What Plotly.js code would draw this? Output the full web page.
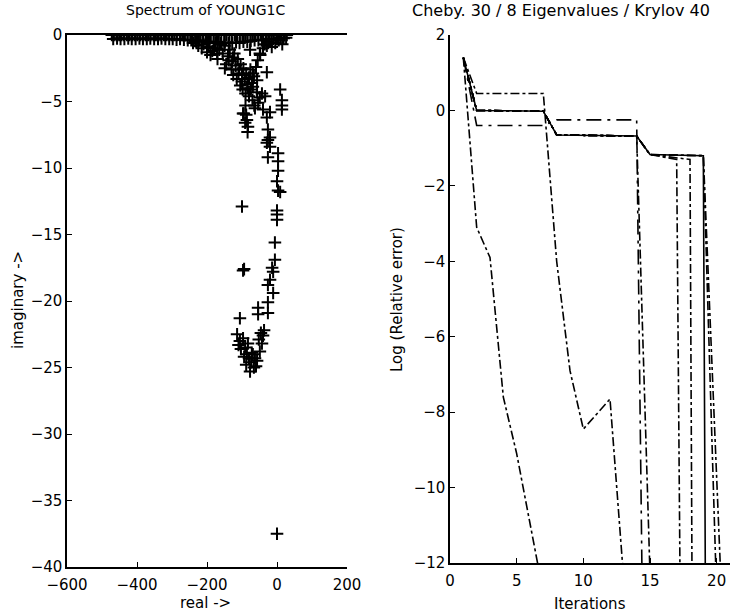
<!DOCTYPE html>
<html>
<head>
<meta charset="utf-8">
<script src="https://cdn.plot.ly/plotly-3.0.1.min.js"></script>
<style>
html,body{margin:0;padding:0;background:#fff;}
#chart{width:737px;height:614px;}
</style>
</head>
<body>
<div id="chart"></div>
<script>
// ---------- Left panel: spectrum of YOUNG1C (real, imaginary) ----------
const bandReal = [-472,-466,-459,-451,-444,-437,-429,-421,-413,-406,-399,-391,-384,-376,-368,-361,-353,-346,-338,-331,-323,-315,-308,-301,-293,-286,-278,-271,-263,-256,-248,-241,-233,-226,-219,-211,-204,-197,-189,-181,-174,-166,-159,-151,-144,-136,-129,-121,-114,-106,-99,-91,-84,-76,-69,-61,-54,-46,-39,-31,-24,-16,-9,-2,6,13,21,28];
const bandImag = [0,0,0,0,0,0,0,0,0,0,0,0,0,0,0,0,0,0,0,0,0,0,0,0,0,0,0,0,0,0,0,0,0,0,0,0,0,0,0,0,0,0,0,0,0,0,0,0,0,0,0,0,0,0,0,0,0,0,0,0,0,0,0,0,0,0,0,0];
const band2Real = [-468,-457,-447,-436,-425,-415,-404,-393,-383,-372,-362,-351,-340,-330,-319,-308,-298,-287,-277,-266,-255,-245,-234,-223,-213,-202,-192,-181,-170,-160,-149,-138,-128,-117,-107,-96,-85,-75,-64,-53,-43,-32,-21,-11,0,10,19,26];
const band2Imag = [-0.3,-0.25,-0.3,-0.3,-0.25,-0.3,-0.3,-0.25,-0.3,-0.3,-0.25,-0.3,-0.3,-0.25,-0.3,-0.3,-0.3,-0.35,-0.3,-0.35,-0.4,-0.4,-0.45,-0.4,-0.45,-0.5,-0.5,-0.55,-0.5,-0.6,-0.55,-0.6,-0.6,-0.55,-0.6,-0.5,-0.5,-0.45,-0.4,-0.4,-0.35,-0.35,-0.3,-0.3,-0.3,-0.25,-0.25,-0.2];
const clusterReal = [-240,-225,-210,-195,-185,-175,-165,-155,-150,-140,-135,-128,-122,-118,-112,-108,-104,-100,-96,-92,-88,-84,-80,-76,-72,-66,-60,-55,-48,-40,-35,-25,-15,-5,5,15,
  -230,-215,-200,-190,-180,-170,-160,-145,-138,-130,-125,-115,-110,-105,-98,-90,-85,-80,-75,-70,-65,-90,-95,-88,-84,
  -200,-171,-149,-126,-100,-77,-49,-29,-69,-57,-29,9,14,14,14,-97,-91,-86,-83,-69,-57,-49,-54,-63,-40,-29,-20,-43,-34,-26,
  -29,-20,-26,-20,-26,3,3,3,0,3,9,-100,0,0,0,-6,-6,-14,-11,-97,-94,-20,-26,-11,-26,-54,-54,-26,-106,
  -114,-106,-97,-91,-86,-80,-74,-69,-63,-57,-49,-43,-40,-103,-94,-83,-77,-66,-60,-37,-110,-88,-72,-52,-46,0];
const clusterImag = [-0.6,-0.8,-0.7,-0.9,-1.2,-0.6,-1.1,-1.4,-0.8,-1.6,-1.1,-2.0,-1.4,-2.3,-1.8,-2.6,-2.2,-3.0,-2.5,-3.3,-2.9,-3.7,-3.2,-2.6,-3.6,-3.1,-2.4,-1.9,-1.5,-1.0,-0.7,-0.5,-0.9,-0.6,-0.4,-0.7,
  -0.5,-1.0,-0.6,-1.5,-1.0,-1.8,-0.7,-2.2,-1.9,-2.6,-3.0,-3.3,-2.9,-3.8,-4.1,-4.4,-4.0,-4.6,-4.1,-4.9,-5.3,-5.3,-5.9,-6.0,-7.3,
  -1.3,-1.4,-2.5,-1.7,-3.5,-1.1,-1.4,-0.8,-2.9,-3.4,-2.8,-4.1,-4.9,-5.3,-5.6,-5.9,-6.6,-6.4,-6.9,-3.9,-4.3,-4.7,-5.1,-5.5,-5.6,-6.2,-5.8,-4.4,-4.6,-7.1,
  -8.1,-7.7,-7.9,-8.4,-9.2,-8.9,-9.5,-10.2,-11.0,-11.7,-11.8,-12.9,-13.2,-13.5,-13.9,-15.6,-16.9,-17.5,-17.8,-17.7,-17.6,-18.4,-18.8,-19.4,-20.1,-20.5,-21.0,-20.9,-21.3,
  -22.5,-23.0,-22.8,-23.5,-24.0,-24.3,-24.6,-24.0,-24.3,-24.5,-23.8,-23.2,-22.6,-23.6,-24.2,-23.2,-25.3,-25.0,-24.9,-22.2,-23.3,-24.8,-23.9,-22.9,-22.4,-37.5];

// ---------- Right panel: Log(relative error) vs iterations ----------
const iterA = [1,2,7,8,14,15,19,19.15];
const errA  = [1.4,0.0,-0.02,-0.65,-0.68,-1.17,-1.2,-12.3];
const iterB = [1,2,7,8,9,10,12,13];
const errB  = [1.4,0.45,0.45,-4.0,-6.9,-8.45,-7.65,-12.3];
const iterC = [1,2,3,4,5,6,7];
const errC  = [1.4,-3.1,-3.9,-7.6,-9.1,-10.95,-12.8];
const iterD = [1,2,7,8,14,14.4];
const errD  = [1.4,-0.4,-0.4,-0.25,-0.25,-12.3];
const iterE = [1,2,7,8,14,15];
const errE  = [1.4,0.0,-0.02,-0.65,-0.68,-12.3];
const iterF = [1,2,7,8,14,15,17,17.25];
const errF  = [1.4,0.0,-0.02,-0.65,-0.68,-1.17,-1.3,-12.3];
const iterG = [1,2,7,8,14,15,18,18.15];
const errG  = [1.4,0.0,-0.02,-0.65,-0.68,-1.17,-1.3,-12.3];
const iterH = [1,2,7,8,14,15,19,19.95];
const errH  = [1.4,0.0,-0.02,-0.65,-0.68,-1.17,-1.2,-12.3];
const iterI = [1,2,7,8,14,15,19,20.3];
const errI  = [1.4,0.0,-0.02,-0.65,-0.68,-1.17,-1.2,-12.3];

const xTicksL = [-600,-400,-200,0,200];
const yTicksL = [0,-5,-10,-15,-20,-25,-30,-35,-40];
const xTicksR = [0,5,10,15,20];
const yTicksR = [2,0,-2,-4,-6,-8,-10,-12];

const FONT = 'DejaVu Sans, Arial, sans-serif';
const mk = {symbol:'cross-thin-open', size:9, color:'#000', line:{color:'#000', width:2}};
const traces = [
  {x:bandReal, y:bandImag, mode:'markers', marker:mk, xaxis:'x', yaxis:'y'},
  {x:band2Real, y:band2Imag, mode:'markers', marker:mk, xaxis:'x', yaxis:'y'},
  {x:clusterReal, y:clusterImag, mode:'markers', marker:mk, xaxis:'x', yaxis:'y'}
];
const lines = [
  [iterA, errA, 'solid'], [iterB, errB, 'dashdot'], [iterC, errC, 'dashdot'],
  [iterD, errD, 'longdashdot'], [iterE, errE, 'dashdot'], [iterF, errF, 'dashdot'],
  [iterG, errG, 'dashdot'], [iterH, errH, 'dashdot'], [iterI, errI, 'dashdot']
];
lines.forEach(l => traces.push({x:l[0], y:l[1], mode:'lines', line:{color:'#000', width:1.6, dash:l[2]}, xaxis:'x2', yaxis:'y2'}));

const axBase = {showline:true, linecolor:'#000', linewidth:1.6, ticks:'inside', ticklen:5, tickcolor:'#000',
  showgrid:false, zeroline:false, tickfont:{family:FONT, size:15, color:'#000'}, fixedrange:true};
const W = 737, H = 614;
const layout = {
  width:W, height:H, margin:{l:0,r:0,t:0,b:0}, showlegend:false,
  paper_bgcolor:'#fff', plot_bgcolor:'#fff',
  xaxis: Object.assign({}, axBase, {domain:[67/W, 347/W], range:[-600,200], tickvals:xTicksL, mirror:true, anchor:'y', ticklabelstandoff:3}),
  yaxis: Object.assign({}, axBase, {domain:[(H-567)/H, (H-35)/H], range:[-40,0], tickvals:yTicksL, anchor:'x'}),
  xaxis2: Object.assign({}, axBase, {domain:[450/W, 730/W], range:[0,21], tickvals:xTicksR, anchor:'y2', ticklabelstandoff:3}),
  yaxis2: Object.assign({}, axBase, {domain:[(H-563)/H, (H-35)/H], range:[-12,2], tickvals:yTicksR, anchor:'x2'}),
  annotations: [
    {text:'Spectrum of YOUNG1C', x:206/W, y:1-10/H, xref:'paper', yref:'paper', showarrow:false, xanchor:'center', yanchor:'middle', font:{family:FONT, size:14, color:'#000'}},
    {text:'Cheby. 30 / 8 Eigenvalues / Krylov 40', x:561/W, y:1-10/H, xref:'paper', yref:'paper', showarrow:false, xanchor:'center', yanchor:'middle', font:{family:FONT, size:16, color:'#000'}},
    {text:'real ->', x:205/W, y:1-603/H, xref:'paper', yref:'paper', showarrow:false, xanchor:'center', yanchor:'middle', font:{family:FONT, size:15, color:'#000'}},
    {text:'Iterations', x:590/W, y:1-604/H, xref:'paper', yref:'paper', showarrow:false, xanchor:'center', yanchor:'middle', font:{family:FONT, size:15, color:'#000'}},
    {text:'imaginary ->', x:18/W, y:1-300/H, xref:'paper', yref:'paper', showarrow:false, textangle:-90, xanchor:'center', yanchor:'middle', font:{family:FONT, size:15, color:'#000'}},
    {text:'Log (Relative error)', x:397/W, y:1-300/H, xref:'paper', yref:'paper', showarrow:false, textangle:-90, xanchor:'center', yanchor:'middle', font:{family:FONT, size:15, color:'#000'}}
  ]
};
Plotly.newPlot('chart', traces, layout, {staticPlot:true, displayModeBar:false});
</script>
</body>
</html>
